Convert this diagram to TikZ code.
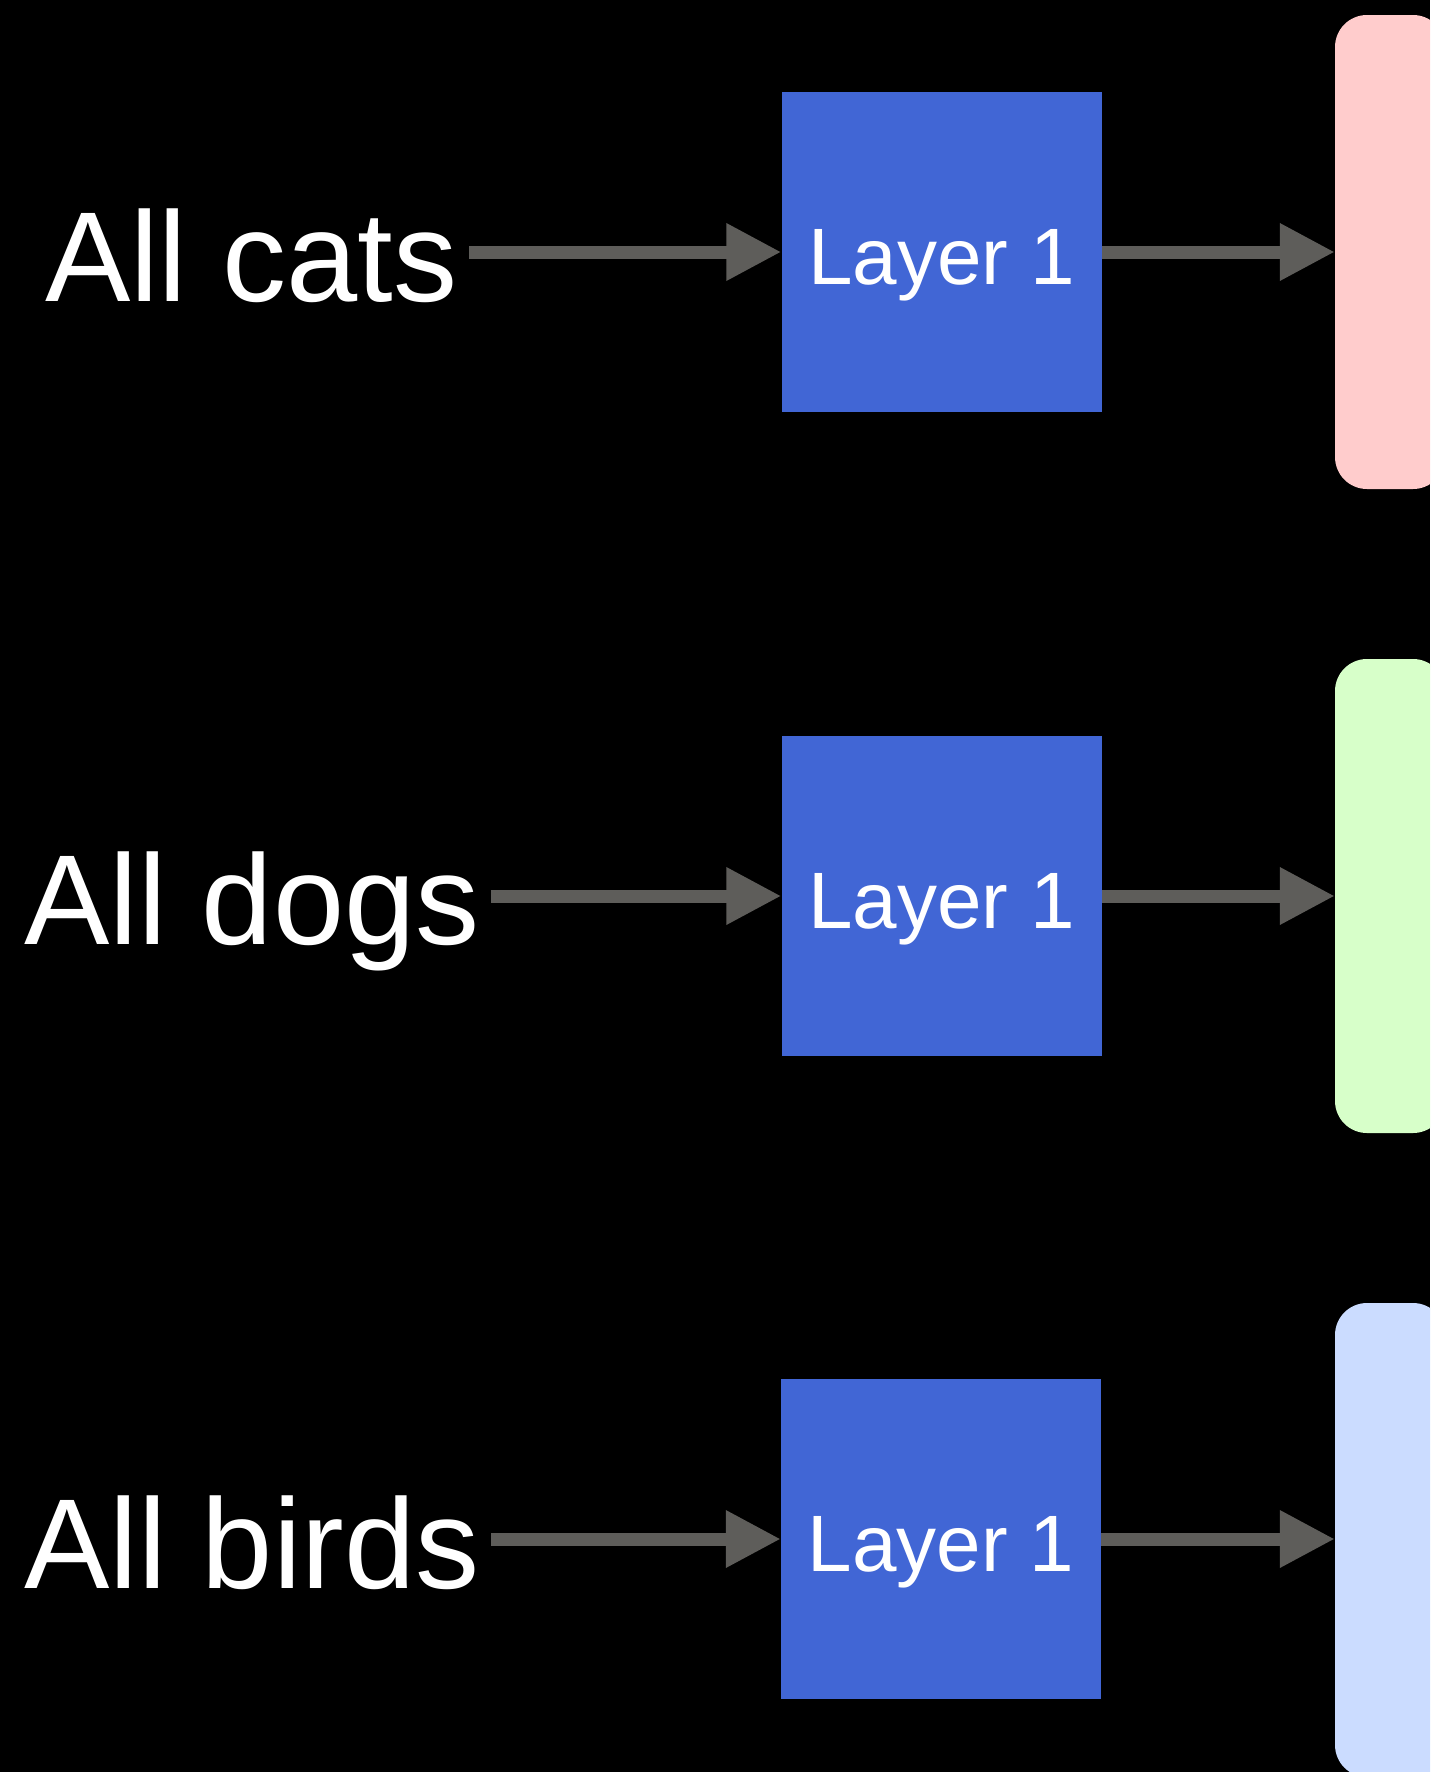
\documentclass[tikz,border=0pt]{standalone}
\usepackage{fontspec}
\setmainfont{Liberation Sans}
\usetikzlibrary{arrows.meta}
\definecolor{boxblue}{HTML}{4166D5}
\definecolor{arrowgray}{HTML}{5E5D5A}
\definecolor{barpink}{HTML}{FFCCCC}
\definecolor{bargreen}{HTML}{D7FFC9}
\definecolor{barblue}{HTML}{CBDCFF}
\tikzset{
  inlabel/.style={anchor=base west, inner sep=0pt, outer xsep=11.5pt, text=white,
    font=\fontsize{128}{128}\selectfont},
  layerbox/.style={fill=boxblue, draw=none, minimum size=320pt, inner sep=0pt,
    text=white, text height=64pt, text depth=0pt,
    font=\fontsize{80}{80}\selectfont},
  outbar/.style={draw=none, minimum width=110pt, minimum height=474pt,
    rounded corners=32pt, inner sep=0pt},
  flow/.style={draw=arrowgray, line width=13pt,
    -{Triangle[length=55pt, width=54pt]}, arrowgray},
}
\begin{document}
\begin{tikzpicture}[x=1pt, y=-1pt]
\useasboundingbox (0,0) rectangle (1430,1772);
\clip (0,0) rectangle (1430,1772);
\fill[black] (0,0) rectangle (1430,1772);

% input labels
\node[inlabel] (cats) at (33.5,301) {All cats};
\node[inlabel] (dogs) at (12.8,944) {All dogs};
\node[inlabel] (birds) at (12.8,1588) {All birds};

% layer boxes
\node[layerbox] (L1) at (941.5,252) {Layer 1};
\node[layerbox] (L2) at (941.5,896) {Layer 1};
\node[layerbox] (L3) at (941,1539) {Layer 1};

% output bars
\node[outbar, fill=barpink] (bar1) at (1390,252) {};
\node[outbar, fill=bargreen] (bar2) at (1390,896) {};
\node[outbar, fill=barblue] (bar3) at (1390,1540) {};

% connectors
\draw[flow] (cats.east |- L1) -- (L1.west);
\draw[flow] (dogs.east |- L2) -- (L2.west);
\draw[flow] (birds.east |- L3) -- (L3.west);
\draw[flow] (L1.east) -- (L1.east -| bar1.west);
\draw[flow] (L2.east) -- (L2.east -| bar2.west);
\draw[flow] (L3.east) -- (L3.east -| bar3.west);
\end{tikzpicture}
\end{document}
